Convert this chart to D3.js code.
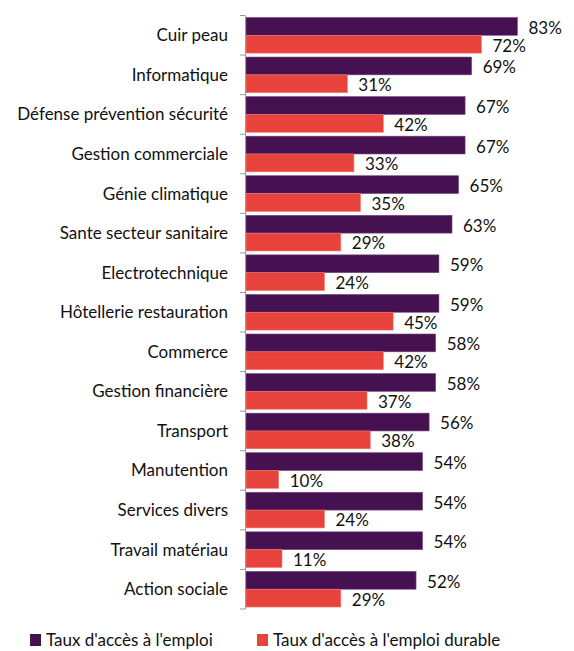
<!DOCTYPE html>
<html>
<head>
<meta charset="utf-8">
<script src="https://cdn.jsdelivr.net/npm/d3@7"></script>
<style>
  body { margin: 0; background: #fff; }
  svg { display: block; }
</style>
</head>
<body>
<div id="chart"></div>
<script>
"use strict";

// categories top to bottom
const categories = ["Cuir peau", "Informatique", "Défense prévention sécurité", "Gestion commerciale",
  "Génie climatique", "Sante secteur sanitaire", "Electrotechnique", "Hôtellerie restauration",
  "Commerce", "Gestion financière", "Transport", "Manutention", "Services divers",
  "Travail matériau", "Action sociale"];
const tauxEmploi = [83, 69, 67, 67, 65, 63, 59, 59, 58, 58, 56, 54, 54, 54, 52];
const tauxDurable = [72, 31, 42, 33, 35, 29, 24, 45, 42, 37, 38, 10, 24, 11, 29];
const seriesNames = ["Taux d'accès à l'emploi", "Taux d'accès à l'emploi durable"];
const colors = ["#461150", "#e8423d"];

const width = 574, height = 651;
const font = "Lato, 'Open Sans', sans-serif";

const svg = d3.select("#chart").append("svg")
    .attr("width", width).attr("height", height);

const x = d3.scaleLinear().domain([0, 100]).range([246, 573]);
const y = d3.scaleBand().domain(categories).range([15.5, 609]).paddingInner(0).paddingOuter(0);
const ySub = d3.scaleBand().domain([0, 1]).range([0, y.bandwidth()]).paddingOuter(0.11).paddingInner(0);

const rows = categories.map((c, i) => ({ cat: c, vals: [tauxEmploi[i], tauxDurable[i]] }));

const groups = svg.append("g").selectAll("g")
    .data(rows).join("g")
    .attr("transform", d => `translate(0,${y(d.cat)})`);

groups.selectAll("rect")
    .data(d => d.vals.map((v, k) => ({ v, k })))
    .join("rect")
    .attr("x", x(0))
    .attr("y", d => ySub(d.k))
    .attr("width", d => x(d.v) - x(0))
    .attr("height", ySub.bandwidth())
    .attr("fill", d => colors[d.k])
    .attr("stroke", d => d.k === 0 ? "#7a4a80" : "#f07a72")
    .attr("stroke-width", 0.6);

groups.selectAll("text")
    .data(d => d.vals.map((v, k) => ({ v, k })))
    .join("text")
    .attr("x", d => x(d.v) + 11)
    .attr("y", d => ySub(d.k) + ySub.bandwidth() / 2 + 1.5)
    .attr("dy", "0.35em")
    .style("font", `17px ${font}`)
    .attr("fill", "#111")
    .text(d => d.v + "%");

// axis with ticks at category boundaries
const axis = svg.append("g").attr("stroke", "#9a9a9a").attr("stroke-width", 1);
axis.append("line")
    .attr("x1", x(0) - 0.5).attr("x2", x(0) - 0.5)
    .attr("y1", y.range()[0]).attr("y2", y.range()[1]);
axis.selectAll("line.tick")
    .data(categories.concat(["end"]))
    .join("line").attr("class", "tick")
    .attr("x1", x(0) - 6).attr("x2", x(0) - 0.5)
    .attr("y1", (d, i) => y.range()[0] + i * y.step())
    .attr("y2", (d, i) => y.range()[0] + i * y.step());

svg.append("g").selectAll("text")
    .data(categories).join("text")
    .attr("x", 228)
    .attr("y", d => y(d) + y.bandwidth() / 2)
    .attr("dy", "0.35em")
    .attr("text-anchor", "end")
    .style("font", `17px ${font}`)
    .attr("fill", "#111")
    .text(d => d);

// legend (raised slightly so the text is not clipped)
const legendX = [30, 257];
const legend = svg.append("g").selectAll("g")
    .data(seriesNames).join("g")
    .attr("transform", (d, i) => `translate(${legendX[i]},634)`);
legend.append("rect")
    .attr("width", 11).attr("height", 12)
    .attr("fill", (d, i) => colors[i]);
legend.append("text")
    .attr("x", 16).attr("y", 12)
    .style("font", `17px ${font}`)
    .attr("fill", "#111")
    .text(d => d);
</script>
</body>
</html>
